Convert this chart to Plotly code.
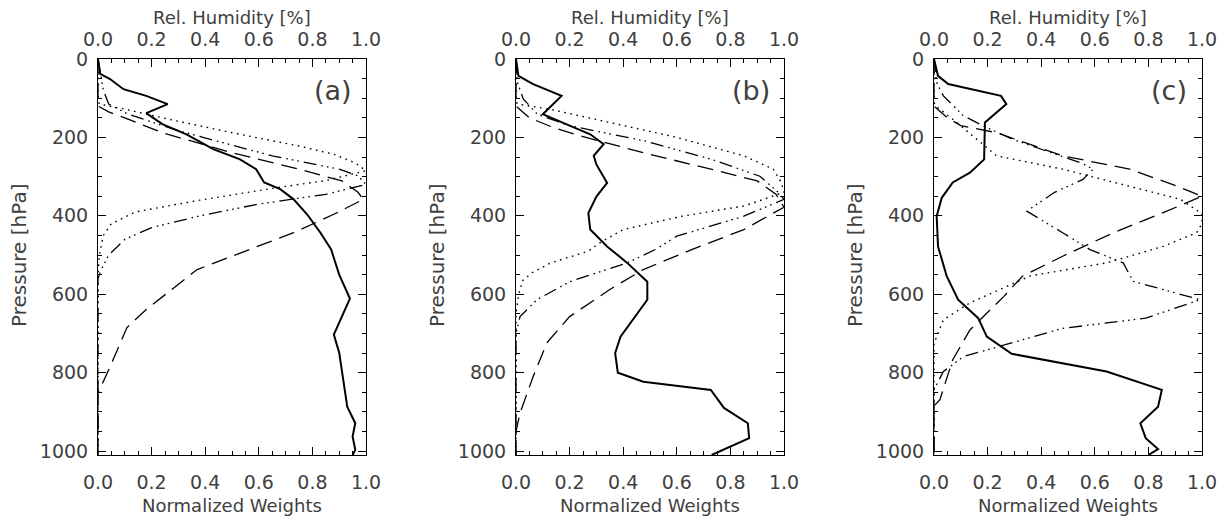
import plotly.graph_objects as go

# ---------------- data (pressure in hPa, x in normalized units) ----------------
# Panel (a)
solid_a_p = [0, 38, 51, 77, 94, 115, 138, 166, 192, 230, 256, 281, 315, 332, 358, 396, 443, 486, 550, 611, 703, 749, 887, 929, 963, 997, 1010]
solid_a_x = [0, 0.008, 0.045, 0.095, 0.18, 0.26, 0.18, 0.24, 0.33, 0.43, 0.53, 0.59, 0.62, 0.68, 0.73, 0.78, 0.83, 0.87, 0.90, 0.94, 0.88, 0.90, 0.93, 0.96, 0.95, 0.96, 0.95]
dot_a_p = [0, 100, 115, 128, 153, 188, 222, 243, 265, 285, 310, 330, 360, 390, 420, 450, 500, 550, 1010]
dot_a_x = [0, 0, 0.005, 0.1, 0.26, 0.5, 0.75, 0.88, 0.96, 1.0, 0.85, 0.65, 0.38, 0.14, 0.05, 0.02, 0.005, 0, 0]
dd_a_p = [0, 40, 80, 115, 140, 183, 247, 281, 298, 320, 345, 370, 400, 430, 460, 500, 540, 560, 1010]
dd_a_x = [0, 0.01, 0.02, 0.04, 0.11, 0.30, 0.65, 0.90, 0.97, 1.0, 0.85, 0.6, 0.38, 0.2, 0.1, 0.04, 0.01, 0, 0]
ld_a_p = [0, 120, 135, 150, 188, 239, 281, 311, 340, 358, 396, 443, 482, 537, 639, 685, 785, 852, 1010]
ld_a_x = [0, 0, 0.04, 0.1, 0.24, 0.5, 0.75, 0.91, 0.97, 0.99, 0.88, 0.73, 0.58, 0.37, 0.18, 0.108, 0.045, 0, 0]

# Panel (b)
solid_b_p = [0, 43, 64, 94, 141, 153, 170, 192, 217, 247, 269, 316, 351, 393, 435, 478, 520, 568, 614, 708, 750, 800, 823, 844, 890, 929, 967, 1010]
solid_b_x = [0, 0.009, 0.064, 0.17, 0.10, 0.14, 0.20, 0.277, 0.327, 0.29, 0.30, 0.34, 0.30, 0.27, 0.277, 0.34, 0.415, 0.49, 0.49, 0.39, 0.37, 0.38, 0.475, 0.727, 0.776, 0.865, 0.87, 0.73]
dot_b_p = [0, 105, 115, 128, 162, 200, 247, 281, 315, 340, 375, 401, 435, 470, 490, 520, 545, 565, 600, 650, 1010]
dot_b_x = [0, 0, 0.005, 0.127, 0.35, 0.60, 0.85, 0.96, 0.99, 1.0, 0.85, 0.62, 0.40, 0.31, 0.27, 0.13, 0.06, 0.025, 0.01, 0, 0]
dd_b_p = [0, 59, 102, 141, 170, 209, 256, 299, 341, 358, 401, 452, 486, 520, 568, 614, 657, 700, 1010]
dd_b_x = [0, 0.005, 0.027, 0.08, 0.2, 0.48, 0.73, 0.91, 0.98, 1.0, 0.85, 0.60, 0.52, 0.415, 0.20, 0.078, 0.015, 0, 0]
ld_b_p = [0, 120, 150, 175, 196, 239, 281, 311, 345, 378, 435, 485, 537, 588, 657, 724, 810, 903, 950, 1010]
ld_b_x = [0, 0, 0.05, 0.14, 0.24, 0.475, 0.727, 0.90, 0.97, 1.0, 0.85, 0.66, 0.475, 0.35, 0.20, 0.115, 0.064, 0.015, 0, 0]

# Panel (c)
solid_c_p = [0, 43, 64, 94, 115, 162, 256, 290, 315, 354, 401, 478, 553, 614, 661, 708, 752, 797, 844, 887, 929, 967, 995, 1010]
solid_c_x = [0, 0.015, 0.053, 0.25, 0.27, 0.19, 0.187, 0.134, 0.07, 0.029, 0.01, 0.015, 0.047, 0.09, 0.165, 0.197, 0.29, 0.644, 0.85, 0.836, 0.77, 0.79, 0.836, 0.80]
dot_c_p = [0, 110, 119, 162, 205, 247, 281, 324, 358, 395, 420, 443, 478, 520, 553, 622, 665, 725, 1010]
dot_c_x = [0, 0, 0.005, 0.085, 0.16, 0.234, 0.48, 0.73, 0.92, 1.0, 1.0, 0.98, 0.855, 0.644, 0.36, 0.134, 0.035, 0, 0]
dd_c_p = [0, 60, 94, 145, 175, 205, 235, 264, 281, 307, 340, 388, 443, 486, 520, 567, 614, 661, 687, 759, 797, 844, 1010]
dd_c_x = [0, 0.01, 0.035, 0.11, 0.197, 0.295, 0.42, 0.545, 0.594, 0.556, 0.45, 0.346, 0.48, 0.582, 0.706, 0.743, 0.993, 0.79, 0.48, 0.11, 0.035, 0, 0]
ld_c_p = [0, 120, 150, 170, 188, 247, 281, 324, 350, 392, 443, 503, 554, 606, 691, 767, 869, 885, 1010]
ld_c_x = [0, 0, 0.05, 0.1, 0.234, 0.48, 0.73, 0.906, 1.0, 0.855, 0.67, 0.48, 0.33, 0.26, 0.134, 0.07, 0.022, 0, 0]

panel_labels = ["(a)", "(b)", "(c)"]
x_ticks = [0.0, 0.2, 0.4, 0.6, 0.8, 1.0]
x_ticktext = ["0.0", "0.2", "0.4", "0.6", "0.8", "1.0"]
y_ticks = [0, 200, 400, 600, 800, 1000]
y_ticktext = ["0", "200", "400", "600", "800", "1000"]
bottom_title = "Normalized Weights"
top_title = "Rel. Humidity [%]"
y_title = "Pressure [hPa]"

panels = [
    (solid_a_x, solid_a_p, dot_a_x, dot_a_p, dd_a_x, dd_a_p, ld_a_x, ld_a_p),
    (solid_b_x, solid_b_p, dot_b_x, dot_b_p, dd_b_x, dd_b_p, ld_b_x, ld_b_p),
    (solid_c_x, solid_c_p, dot_c_x, dot_c_p, dd_c_x, dd_c_p, ld_c_x, ld_c_p),
]

# ---------------- layout geometry (pixels) ----------------
W, H = 1226, 519
left_px = [98, 516, 934]
width_px = 268
top_px, bot_px = 59, 455

FONT = "DejaVu Sans"
TXT = "#404040"

DOT = "1.6px,4.6px"
DASHDOT3 = "13px,5px,1.6px,4px,1.6px,4px,1.6px,5px"
LONGDASH = "16px,8px"

fig = go.Figure()
layout = dict(
    width=W, height=H, margin=dict(l=0, r=0, t=0, b=0, autoexpand=False),
    paper_bgcolor="white", plot_bgcolor="white", showlegend=False,
)
annotations = []
ydom = [1 - bot_px / H, 1 - top_px / H]

for i, (sx, sp, dx, dp, ddx, ddp, lx, lp) in enumerate(panels):
    xb = "x" if i == 0 else f"x{i+1}"
    xt = f"x{i+4}"
    yy = "y" if i == 0 else f"y{i+1}"
    dom = [left_px[i] / W, (left_px[i] + width_px) / W]

    fig.add_trace(go.Scatter(x=sx, y=sp, mode="lines", xaxis=xb, yaxis=yy,
                             line=dict(color="black", width=2)))
    fig.add_trace(go.Scatter(x=dx, y=dp, mode="lines", xaxis=xt, yaxis=yy,
                             line=dict(color="black", width=1.4, dash=DOT)))
    fig.add_trace(go.Scatter(x=ddx, y=ddp, mode="lines", xaxis=xt, yaxis=yy,
                             line=dict(color="black", width=1.3, dash=DASHDOT3)))
    fig.add_trace(go.Scatter(x=lx, y=lp, mode="lines", xaxis=xt, yaxis=yy,
                             line=dict(color="black", width=1.3, dash=LONGDASH)))

    tickfont = dict(family=FONT, size=19, color=TXT)
    layout["xaxis" if i == 0 else f"xaxis{i+1}"] = dict(
        domain=dom, anchor=yy, range=[0, 1], tickvals=x_ticks, ticktext=x_ticktext,
        ticks="inside", ticklen=8, tickwidth=1, tickcolor="black",
        showline=True, linecolor="black", linewidth=1, mirror="ticks",
        minor=dict(ticks="inside", ticklen=4, dtick=0.05, tick0=0, tickcolor="black", showgrid=False),
        showgrid=False, zeroline=False, tickfont=tickfont, ticklabelstandoff=10,
        automargin=False,
    )
    layout[f"xaxis{i+4}"] = dict(
        domain=dom, anchor=yy, overlaying=xb, side="top", range=[0, 1],
        tickvals=x_ticks, ticktext=x_ticktext, ticks="", showline=False,
        showgrid=False, zeroline=False, tickfont=tickfont, ticklabelstandoff=8,
        automargin=False,
    )
    layout["yaxis" if i == 0 else f"yaxis{i+1}"] = dict(
        domain=ydom, anchor=xb, range=[1010, 0], tickvals=y_ticks, ticktext=y_ticktext,
        ticks="inside", ticklen=8, tickwidth=1, tickcolor="black",
        showline=True, linecolor="black", linewidth=1, mirror="ticks",
        minor=dict(ticks="inside", ticklen=4, dtick=50, tick0=0, tickcolor="black", showgrid=False),
        showgrid=False, zeroline=False, tickfont=tickfont, ticklabelstandoff=5,
        automargin=False,
    )

    cx = (left_px[i] + width_px / 2) / W
    annotations.append(dict(text=top_title, x=cx, y=1 - 18 / H, xref="paper", yref="paper",
                            showarrow=False, xanchor="center", yanchor="middle",
                            font=dict(family=FONT, size=18, color=TXT)))
    annotations.append(dict(text=bottom_title, x=cx, y=1 - 505 / H, xref="paper", yref="paper",
                            showarrow=False, xanchor="center", yanchor="middle",
                            font=dict(family=FONT, size=18, color=TXT)))
    annotations.append(dict(text=y_title, x=(left_px[i] - 79) / W, y=1 - 256 / H,
                            xref="paper", yref="paper", textangle=-90,
                            showarrow=False, xanchor="center", yanchor="middle",
                            font=dict(family=FONT, size=20, color=TXT)))
    annotations.append(dict(text=panel_labels[i], x=(left_px[i] + width_px - 33) / W, y=1 - 90 / H,
                            xref="paper", yref="paper", showarrow=False,
                            xanchor="center", yanchor="middle",
                            font=dict(family=FONT, size=27, color=TXT)))

layout["annotations"] = annotations
fig.update_layout(**layout)
fig.write_html(
    "out.html",
    config={"displayModeBar": False},
    post_script="document.body.style.margin='0px';document.body.style.overflow='hidden';",
)
